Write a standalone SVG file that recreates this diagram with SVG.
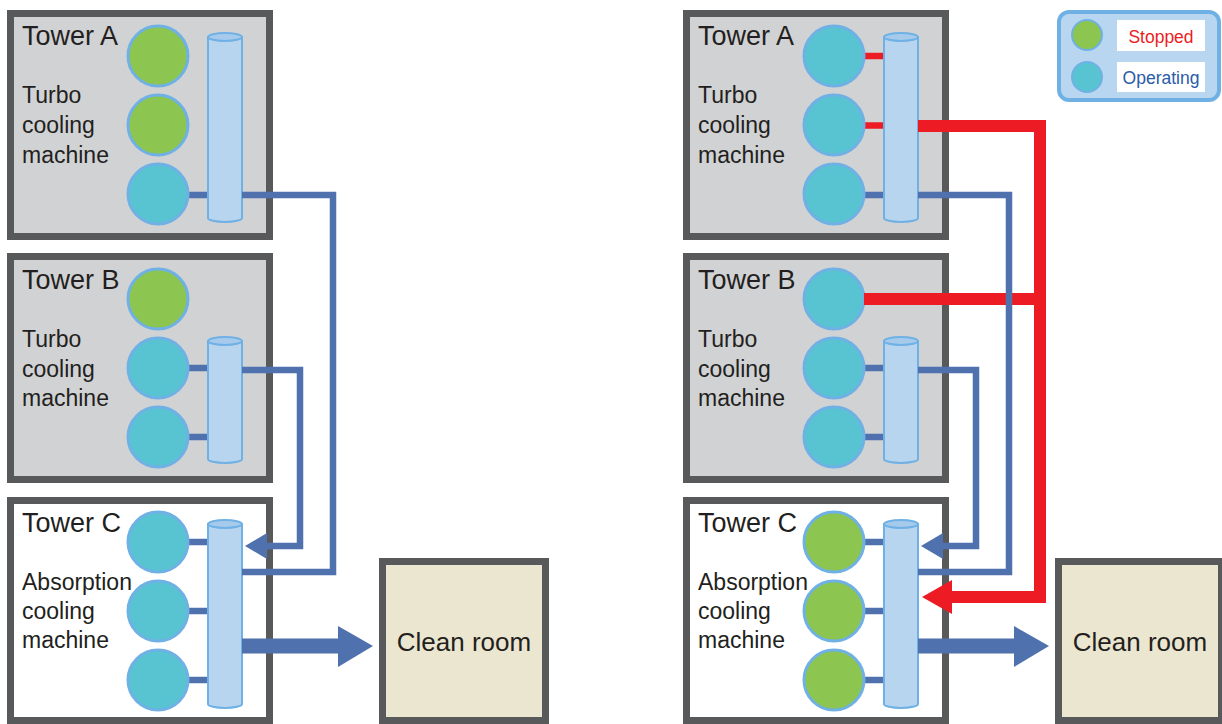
<svg xmlns="http://www.w3.org/2000/svg" width="1222" height="724" viewBox="0 0 1222 724">
<style>
.frame{stroke:#58595b;stroke-width:7}
.gray{fill:#d1d2d4}
.white{fill:#ffffff}
.room{fill:#ebe6cf}
.lbl{font-family:"Liberation Sans",Arial,sans-serif;fill:#231f20}
.title{font-size:27px}
.sub{font-size:23px}
.room-t{font-size:26px}
.on{fill:#58c4d2;stroke:#6fb1e4;stroke-width:3}
.off{fill:#8cc54f;stroke:#6fb1e4;stroke-width:3}
.cyl{fill:#b8d5ef;stroke:#6fb1e4;stroke-width:2}
.cyltop{fill:#a6caec;stroke:#6fb1e4;stroke-width:2}
.stub{stroke:#4f71ae;stroke-width:6.5;fill:none}
.stubr{stroke:#ed1c24;stroke-width:6.5;fill:none}
.pipe{stroke:#4f71ae;stroke-width:6.5;fill:none;stroke-linejoin:miter}
.red{stroke:#ed1c24;stroke-width:12;fill:none;stroke-linejoin:miter}
.big{stroke:#4f71ae;stroke-width:15;fill:none}
.headb{fill:#4f71ae}
.headr{fill:#ed1c24}
</style>
<defs>
<g id="cylA">
<path class="cyl" d="M208,37 V218 A17,4 0 0 0 242,218 V37 Z"/>
<ellipse class="cyltop" cx="225" cy="37" rx="17" ry="4"/>
</g>
<g id="cylB">
<path class="cyl" d="M208,341 V459 A17,4 0 0 0 242,459 V341 Z"/>
<ellipse class="cyltop" cx="225" cy="341" rx="17" ry="4"/>
</g>
<g id="cylC">
<path class="cyl" d="M208,524 V704 A17,4 0 0 0 242,704 V524 Z"/>
<ellipse class="cyltop" cx="225" cy="524" rx="17" ry="4"/>
</g>
</defs>

<!-- LEFT SIDE -->
<g id="left-tower-a">
<rect class="frame gray" x="10.5" y="13.5" width="259" height="223"/>
<text class="lbl title" x="22" y="45">Tower A</text>
<text class="lbl sub" x="22" y="103">Turbo</text>
<text class="lbl sub" x="22" y="133">cooling</text>
<text class="lbl sub" x="22" y="163">machine</text>
<line class="stub" x1="186" y1="195" x2="210" y2="195"/>
<circle class="off" cx="158" cy="56" r="30"/>
<circle class="off" cx="158" cy="125" r="30"/>
<circle class="on" cx="158" cy="194" r="30"/>
<use href="#cylA"/>
</g>
<g id="left-tower-b">
<rect class="frame gray" x="10.5" y="256.5" width="259" height="223"/>
<text class="lbl title" x="22" y="289">Tower B</text>
<text class="lbl sub" x="22" y="347">Turbo</text>
<text class="lbl sub" x="22" y="377">cooling</text>
<text class="lbl sub" x="22" y="406">machine</text>
<line class="stub" x1="186" y1="368" x2="210" y2="368"/>
<line class="stub" x1="186" y1="437" x2="210" y2="437"/>
<circle class="off" cx="158" cy="299" r="30"/>
<circle class="on" cx="158" cy="368" r="30"/>
<circle class="on" cx="158" cy="437" r="30"/>
<use href="#cylB"/>
</g>
<g id="left-tower-c">
<rect class="frame white" x="10.5" y="500.5" width="259" height="220"/>
<text class="lbl title" x="22" y="532">Tower C</text>
<text class="lbl sub" x="22" y="590">Absorption</text>
<text class="lbl sub" x="22" y="619">cooling</text>
<text class="lbl sub" x="22" y="648">machine</text>
<line class="stub" x1="186" y1="542" x2="210" y2="542"/>
<line class="stub" x1="186" y1="611" x2="210" y2="611"/>
<line class="stub" x1="186" y1="680" x2="210" y2="680"/>
<circle class="on" cx="158" cy="542" r="30"/>
<circle class="on" cx="158" cy="611" r="30"/>
<circle class="on" cx="158" cy="680" r="30"/>
<use href="#cylC"/>
</g>
<g id="left-clean-room">
<rect class="frame room" x="382.5" y="561.5" width="163" height="159"/>
<text class="lbl room-t" x="464" y="651" text-anchor="middle">Clean room</text>
</g>

<!-- RIGHT SIDE -->
<g id="right-tower-a">
<rect class="frame gray" x="686.5" y="13.5" width="259" height="223"/>
<text class="lbl title" x="698" y="45">Tower A</text>
<text class="lbl sub" x="698" y="103">Turbo</text>
<text class="lbl sub" x="698" y="133">cooling</text>
<text class="lbl sub" x="698" y="163">machine</text>
<line class="stubr" x1="862" y1="56" x2="886" y2="56"/>
<line class="stubr" x1="862" y1="125.5" x2="886" y2="125.5"/>
<line class="stub" x1="862" y1="195" x2="886" y2="195"/>
<circle class="on" cx="834" cy="56" r="30"/>
<circle class="on" cx="834" cy="125" r="30"/>
<circle class="on" cx="834" cy="194" r="30"/>
<use href="#cylA" transform="translate(676,0)"/>
</g>
<g id="right-tower-b">
<rect class="frame gray" x="686.5" y="256.5" width="259" height="223"/>
<text class="lbl title" x="698" y="289">Tower B</text>
<text class="lbl sub" x="698" y="347">Turbo</text>
<text class="lbl sub" x="698" y="377">cooling</text>
<text class="lbl sub" x="698" y="406">machine</text>
<line class="stub" x1="862" y1="368" x2="886" y2="368"/>
<line class="stub" x1="862" y1="437" x2="886" y2="437"/>
<circle class="on" cx="834" cy="299" r="30"/>
<circle class="on" cx="834" cy="368" r="30"/>
<circle class="on" cx="834" cy="437" r="30"/>
<use href="#cylB" transform="translate(676,0)"/>
</g>
<g id="right-tower-c">
<rect class="frame white" x="686.5" y="500.5" width="259" height="220"/>
<text class="lbl title" x="698" y="532">Tower C</text>
<text class="lbl sub" x="698" y="590">Absorption</text>
<text class="lbl sub" x="698" y="619">cooling</text>
<text class="lbl sub" x="698" y="648">machine</text>
<line class="stub" x1="862" y1="542" x2="886" y2="542"/>
<line class="stub" x1="862" y1="611" x2="886" y2="611"/>
<line class="stub" x1="862" y1="680" x2="886" y2="680"/>
<circle class="off" cx="834" cy="542" r="30"/>
<circle class="off" cx="834" cy="611" r="30"/>
<circle class="off" cx="834" cy="680" r="30"/>
<use href="#cylC" transform="translate(676,0)"/>
</g>
<g id="right-clean-room">
<rect class="frame room" x="1058.5" y="561.5" width="163" height="159"/>
<text class="lbl room-t" x="1140" y="651" text-anchor="middle">Clean room</text>
</g>

<g id="legend">
<rect x="1059" y="12" width="160" height="88" rx="10" ry="10" fill="#b9d6f0" stroke="#6fb1e4" stroke-width="4"/>
<circle cx="1087" cy="35" r="15" fill="#8cc54f" stroke="#6fb1e4" stroke-width="2"/>
<circle cx="1087" cy="77" r="15" fill="#58c4d2" stroke="#6fb1e4" stroke-width="2"/>
<rect x="1117" y="20" width="88" height="31" fill="#ffffff"/>
<rect x="1117" y="62" width="88" height="30" fill="#ffffff"/>
<text x="1161" y="43" text-anchor="middle" font-family="Liberation Sans, Arial, sans-serif" font-size="17.5" fill="#ed1c24">Stopped</text>
<text x="1161" y="84" text-anchor="middle" font-family="Liberation Sans, Arial, sans-serif" font-size="17.5" fill="#2a5ca8">Operating</text>
</g>

<g id="connectors">
<!-- left -->
<path class="pipe" d="M242,195 H333 V572 H242"/>
<path class="pipe" d="M242,370 H300 V546 H265"/>
<polygon class="headb" points="267,533 245,546 267,559"/>
<line class="big" x1="242" y1="646" x2="340" y2="646"/>
<polygon class="headb" points="338,626 373,646 338,667"/>
<!-- right: red first, blue on top -->
<path class="red" d="M918,126 H1040 V597 H950"/>
<line class="red" x1="864" y1="299" x2="1040" y2="299"/>
<polygon class="headr" points="952,580 922,597 952,614"/>
<path class="pipe" d="M918,195 H1009 V572 H918"/>
<path class="pipe" d="M918,370 H976 V546 H941"/>
<polygon class="headb" points="943,533 921,546 943,559"/>
<line class="big" x1="918" y1="646" x2="1016" y2="646"/>
<polygon class="headb" points="1014,626 1049,646 1014,667"/>
</g>
</svg>
